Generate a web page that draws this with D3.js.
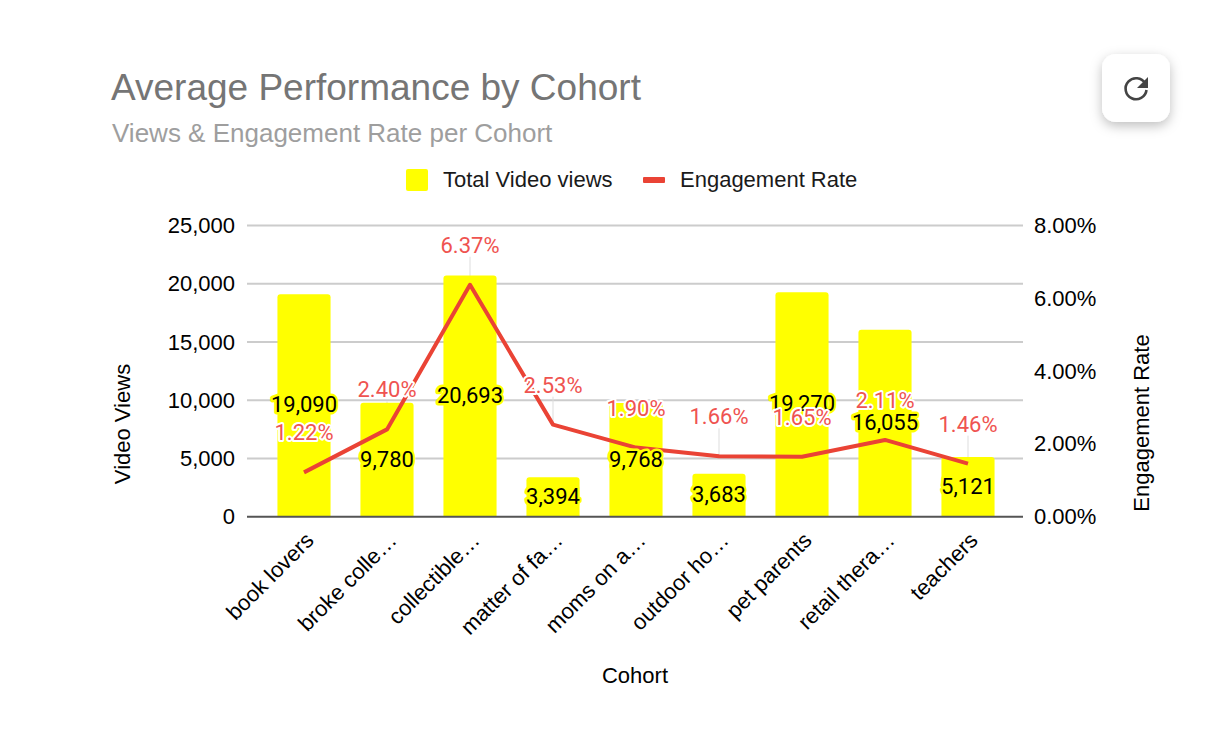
<!DOCTYPE html>
<html>
<head>
<meta charset="utf-8">
<script src="https://cdn.jsdelivr.net/npm/d3@7"></script>
<style>
  html, body { margin: 0; background: #fff; }
  svg { display: block; font-family: "Liberation Sans", Arial, sans-serif; }
  .axis path, .axis line { display: none; }
  .axis text { font-family: "Liberation Sans", Arial, sans-serif; fill: #000; }
</style>
</head>
<body>
<svg id="chart"></svg>
<script>
var cohorts = ['book lovers', 'broke colle…', 'collectible…', 'matter of fa…', 'moms on a…', 'outdoor ho…', 'pet parents', 'retail thera…', 'teachers'];
var totalViews = [19090, 9780, 20693, 3394, 9768, 3683, 19270, 16055, 5121];
var engagementRate = [1.22, 2.40, 6.37, 2.53, 1.90, 1.66, 1.65, 2.11, 1.46];
var viewTicks = [0, 5000, 10000, 15000, 20000, 25000];
var rateTicks = [0, 2, 4, 6, 8];

var width = 1218;
var height = 756;
var plotLeft = 247;
var plotRight = 1023;
var plotTop = 225.4;
var plotBottom = 516.8;
var labelOffset = 40;

var svg = d3.select('#chart')
  .attr('width', width)
  .attr('height', height);

var x = d3.scaleBand()
  .domain(cohorts)
  .range([262.5, 1009.5])
  .paddingInner(0.36)
  .paddingOuter(0.18);

var yViews = d3.scaleLinear().domain([0, 25000]).range([plotBottom, plotTop]);
var yRate = d3.scaleLinear().domain([0, 8]).range([plotBottom, plotTop]);

function centerX(i) {
  return x(cohorts[i]) + x.bandwidth() / 2;
}

// titles
svg.append('text')
  .attr('x', 111).attr('y', 100)
  .attr('font-size', 37)
  .attr('fill', '#757575')
  .text('Average Performance by Cohort');

svg.append('text')
  .attr('x', 112).attr('y', 142)
  .attr('font-size', 26)
  .attr('fill', '#9e9e9e')
  .text('Views & Engagement Rate per Cohort');

// legend
svg.append('rect')
  .attr('x', 406).attr('y', 169)
  .attr('width', 22).attr('height', 22)
  .attr('rx', 2)
  .attr('fill', '#ffff00');
svg.append('text')
  .attr('x', 443).attr('y', 187)
  .attr('font-size', 22)
  .attr('fill', '#1a1a1a')
  .text('Total Video views');
svg.append('rect')
  .attr('x', 643).attr('y', 177)
  .attr('width', 22).attr('height', 6)
  .attr('rx', 1)
  .attr('fill', '#ea4335');
svg.append('text')
  .attr('x', 680).attr('y', 187)
  .attr('font-size', 22)
  .attr('fill', '#1a1a1a')
  .text('Engagement Rate');

// gridlines
svg.append('g').selectAll('line')
  .data(viewTicks.slice(1))
  .join('line')
  .attr('x1', plotLeft).attr('x2', plotRight)
  .attr('y1', d => yViews(d)).attr('y2', d => yViews(d))
  .attr('stroke', '#cccccc')
  .attr('stroke-width', 2);

// leader lines from the rate labels, behind the bars
svg.append('g').selectAll('line')
  .data(engagementRate)
  .join('line')
  .attr('x1', (d, i) => centerX(i)).attr('x2', (d, i) => centerX(i))
  .attr('y1', d => yRate(d) - labelOffset + 12).attr('y2', d => yRate(d))
  .attr('stroke', '#dddddd')
  .attr('stroke-width', 1);

// bars
svg.append('g').selectAll('path')
  .data(totalViews)
  .join('path')
  .attr('fill', '#ffff00')
  .attr('d', (d, i) => {
    var x0 = x(cohorts[i]);
    var x1 = x0 + x.bandwidth();
    var y0 = yViews(d);
    var r = 3;
    return 'M' + x0 + ',' + plotBottom + 'V' + (y0 + r) + 'Q' + x0 + ',' + y0 + ' ' + (x0 + r) + ',' + y0 +
      'H' + (x1 - r) + 'Q' + x1 + ',' + y0 + ' ' + x1 + ',' + (y0 + r) + 'V' + plotBottom + 'Z';
  });

// baseline
svg.append('line')
  .attr('x1', plotLeft).attr('x2', plotRight)
  .attr('y1', plotBottom).attr('y2', plotBottom)
  .attr('stroke', '#555555')
  .attr('stroke-width', 2);

// axes
var axisLeft = svg.append('g')
  .attr('class', 'axis')
  .attr('transform', 'translate(' + plotLeft + ',0)')
  .call(d3.axisLeft(yViews).tickValues(viewTicks).tickFormat(d3.format(',')).tickSize(0).tickPadding(12));
axisLeft.selectAll('text').attr('font-size', 22);

var axisRight = svg.append('g')
  .attr('class', 'axis')
  .attr('transform', 'translate(' + plotRight + ',0)')
  .call(d3.axisRight(yRate).tickValues(rateTicks).tickFormat(d => d.toFixed(2) + '%').tickSize(0).tickPadding(11));
axisRight.selectAll('text').attr('font-size', 22);

var axisBottom = svg.append('g')
  .attr('class', 'axis')
  .attr('transform', 'translate(0,' + plotBottom + ')')
  .call(d3.axisBottom(x).tickSize(0));
axisBottom.selectAll('text')
  .attr('font-size', 22)
  .attr('text-anchor', 'end')
  .attr('dy', null)
  .attr('y', 0)
  .attr('transform', 'translate(11,25) rotate(-45)');

// axis titles
svg.append('text')
  .attr('x', 635).attr('y', 683)
  .attr('text-anchor', 'middle')
  .attr('font-size', 22)
  .attr('fill', '#000')
  .text('Cohort');
svg.append('text')
  .attr('transform', 'translate(130,424) rotate(-90)')
  .attr('text-anchor', 'middle')
  .attr('font-size', 22)
  .attr('fill', '#000')
  .text('Video Views');
svg.append('text')
  .attr('transform', 'translate(1149,423) rotate(-90)')
  .attr('text-anchor', 'middle')
  .attr('font-size', 22)
  .attr('fill', '#000')
  .text('Engagement Rate');

// engagement line
var line = d3.line()
  .x((d, i) => centerX(i))
  .y(d => yRate(d));

svg.append('path')
  .datum(engagementRate)
  .attr('d', line)
  .attr('fill', 'none')
  .attr('stroke', '#ea4335')
  .attr('stroke-width', 4)
  .attr('stroke-linejoin', 'round');

// bar value labels
svg.append('g').selectAll('text')
  .data(totalViews)
  .join('text')
  .attr('x', (d, i) => centerX(i))
  .attr('y', d => yViews(d / 2) - 1)
  .attr('dy', '0.36em')
  .attr('text-anchor', 'middle')
  .attr('font-family', 'Roboto')
  .attr('font-size', 22)
  .attr('fill', '#000')
  .attr('stroke', '#ffff00')
  .attr('stroke-width', 5)
  .attr('stroke-linejoin', 'round')
  .attr('paint-order', 'stroke')
  .text(d => d3.format(',')(d));

// rate value labels
svg.append('g').selectAll('text')
  .data(engagementRate)
  .join('text')
  .attr('x', (d, i) => centerX(i))
  .attr('y', d => yRate(d) - labelOffset)
  .attr('dy', '0.36em')
  .attr('text-anchor', 'middle')
  .attr('font-family', 'Roboto')
  .attr('font-size', 22)
  .attr('fill', '#ef5350')
  .attr('stroke', '#ffffff')
  .attr('stroke-width', 4)
  .attr('stroke-linejoin', 'round')
  .attr('paint-order', 'stroke')
  .text(d => d.toFixed(2) + '%');

// refresh button
var shadow = svg.append('defs').append('filter')
  .attr('id', 'btnShadow')
  .attr('x', '-40%').attr('y', '-40%')
  .attr('width', '180%').attr('height', '180%');
shadow.append('feDropShadow')
  .attr('dx', 0).attr('dy', 4)
  .attr('stdDeviation', 6)
  .attr('flood-color', '#000')
  .attr('flood-opacity', 0.25);

svg.append('rect')
  .attr('x', 1102).attr('y', 54)
  .attr('width', 68).attr('height', 68)
  .attr('rx', 14)
  .attr('fill', '#fff')
  .attr('filter', 'url(#btnShadow)');

svg.append('path')
  .attr('d', 'M1145.2,83.5A10.5,10.5 0 1 0 1146.5,90')
  .attr('fill', 'none')
  .attr('stroke', '#444')
  .attr('stroke-width', 2.6);
svg.append('path')
  .attr('d', 'M1148,77V88H1137Z')
  .attr('fill', '#444');
</script>
</body>
</html>
